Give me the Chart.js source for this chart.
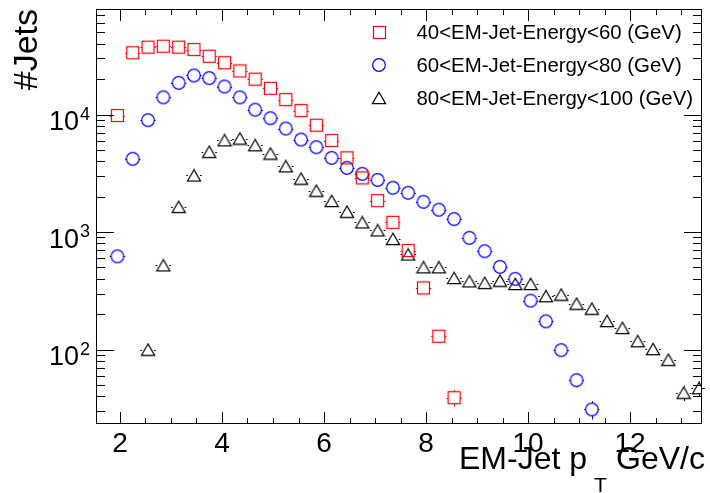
<!DOCTYPE html>
<html><head><meta charset="utf-8">
<script src="https://cdn.jsdelivr.net/npm/chart.js@4"></script>
<style>html,body{margin:0;padding:0;background:#fff}canvas{display:block}</style>
</head><body>
<canvas id="c" width="710" height="493"></canvas>
<script>
// ---- data ----
const binCenters = [1.95,2.25,2.55,2.85,3.15,3.45,3.75,4.05,4.35,4.65,4.95,5.25,5.55,5.85,6.15,6.45,6.75,7.05,7.35,7.65,7.95,8.25,8.55,8.85,9.15,9.45,9.75,10.05,10.35,10.65,10.95,11.25,11.55,11.85,12.15,12.45,12.75,13.05,13.35];
const seriesLabels = ['40<EM-Jet-Energy<60 (GeV)','60<EM-Jet-Energy<80 (GeV)','80<EM-Jet-Energy<100 (GeV)'];
const jets40to60 = [9800,33500,37400,38100,37400,35700,31300,27600,23500,20000,16700,13400,10800,8110,6010,4280,2890,1850,1210,697,335,130,39,null,null,null,null,null,null,null,null,null,null,null,null,null,null,null,null];
const jets60to80 = [622,4200,8950,14000,18600,21500,20400,17300,14000,11000,9300,7600,6120,5270,4280,3520,3130,2780,2380,2160,1810,1550,1290,893,687,506,400,261,174,99,55,31,null,null,null,null,null,null,null];
const jets80to100 = [null,null,100,521,1640,3030,4820,6040,6250,5480,4660,3630,2850,2250,1840,1490,1210,1035,875,645,502,502,407,381,370,386,362,362,285,294,246,223,175,153,118,101,82,43,47];
const xTickLabels = [2,4,6,8,10,12];
const yTickBase = '10';
const yTickExponents = [2,3,4];
const xTitleParts = ['EM-Jet p','T','GeV/c'];
const yTitle = '#Jets';
const binHalfWidth = 0.15;

const FONT = "'Liberation Sans', Arial, Helvetica, sans-serif";

function makeMarker(kind, color) {
  const c = document.createElement('canvas');
  if (kind === 'square') { c.width = 15; c.height = 15; }
  else if (kind === 'circle') { c.width = 16; c.height = 16; }
  else { c.width = 16; c.height = 14; }
  const g = c.getContext('2d');
  g.strokeStyle = color; g.lineWidth = 1.2;
  if (kind === 'square') { g.strokeRect(1.5, 1.5, 12, 12); }
  else if (kind === 'circle') { g.beginPath(); g.arc(8, 8, 6.3, 0, Math.PI * 2); g.stroke(); }
  else { g.beginPath(); g.moveTo(8, 1.2); g.lineTo(1.4, 12.6); g.lineTo(14.6, 12.6); g.closePath(); g.stroke(); }
  return c;
}

function toPoints(vals) {
  return binCenters.map((x, i) => ({x: x, y: vals[i]})).filter(p => p.y !== null);
}

const seriesDefs = [
  {vals: jets40to60, color: '#ff0000', kind: 'square'},
  {vals: jets60to80, color: '#0000ff', kind: 'circle'},
  {vals: jets80to100, color: '#000000', kind: 'triangle'}
];

const datasets = seriesDefs.map((s, i) => ({
  label: seriesLabels[i],
  data: toPoints(s.vals),
  pointStyle: makeMarker(s.kind, s.color),
  pointRadius: 7,
  borderColor: s.color,
  backgroundColor: s.color,
  showLine: false
}));

const near = (v, t) => Math.abs(v - t) < 1e-6;
const decadeOf = (v) => { const e = Math.round(Math.log10(v)); return near(v, Math.pow(10, e)) && yTickExponents.includes(e) ? e : null; };

const errorBars = {
  id: 'errorBars',
  beforeDatasetsDraw(chart) {
    const {ctx, scales: {x, y}} = chart;
    ctx.save();
    ctx.lineWidth = 1;
    chart.data.datasets.forEach((ds, di) => {
      const meta = chart.getDatasetMeta(di);
      ctx.strokeStyle = ds.borderColor;
      ctx.beginPath();
      meta.data.forEach((el, i) => {
        const p = ds.data[i];
        const px = el.x, py = el.y, gap = 6;
        const xl = x.getPixelForValue(p.x - binHalfWidth), xr = x.getPixelForValue(p.x + binHalfWidth);
        const yy = Math.round(py) + 0.5;
        if (px - gap > xl) { ctx.moveTo(xl, yy); ctx.lineTo(px - gap, yy); }
        if (xr > px + gap) { ctx.moveTo(px + gap, yy); ctx.lineTo(Math.min(xr, chart.chartArea.right), yy); }
        const e = Math.sqrt(p.y);
        const yt = y.getPixelForValue(p.y + e), yb = y.getPixelForValue(Math.max(p.y - e, 1e-3));
        const xx = Math.round(px) + 0.5;
        if (yt < py - gap) { ctx.moveTo(xx, yt); ctx.lineTo(xx, py - gap); }
        if (yb > py + gap) { ctx.moveTo(xx, py + gap); ctx.lineTo(xx, Math.min(yb, chart.chartArea.bottom)); }
      });
      ctx.stroke();
    });
    ctx.restore();
  }
};

const frameTicks = {
  id: 'frameTicks',
  afterDatasetsDraw(chart) {
    const {ctx, chartArea: a, scales: {x, y}} = chart;
    ctx.save();
    ctx.strokeStyle = '#000'; ctx.lineWidth = 1;
    ctx.beginPath();
    for (let v = Math.ceil(x.min * 2) / 2; v <= x.max + 1e-9; v += 0.5) {
      const px = Math.round(x.getPixelForValue(v)) + 0.5;
      const len = Math.abs(v / 2 - Math.round(v / 2)) < 1e-9 ? 12 : 6;
      ctx.moveTo(px, a.bottom); ctx.lineTo(px, a.bottom - len);
      ctx.moveTo(px, a.top); ctx.lineTo(px, a.top + len);
    }
    const e0 = Math.floor(Math.log10(y.min)), e1 = Math.ceil(Math.log10(y.max));
    for (let e = e0; e <= e1; e++) {
      for (let m = 1; m <= 9; m++) {
        const v = m * Math.pow(10, e);
        if (v < y.min || v > y.max) continue;
        const py = Math.round(y.getPixelForValue(v)) + 0.5;
        const len = m === 1 ? 18 : 9;
        ctx.moveTo(a.left, py); ctx.lineTo(a.left + len, py);
        ctx.moveTo(a.right, py); ctx.lineTo(a.right - len, py);
      }
    }
    ctx.stroke();
    ctx.strokeRect(a.left + 0.5, a.top + 0.5, a.right - a.left - 1, a.bottom - a.top - 1);
    ctx.restore();
  }
};

const legendAndTitle = {
  id: 'legendAndTitle',
  afterDraw(chart) {
    const {ctx, chartArea: a, scales: {y}} = chart;
    ctx.save();
    ctx.fillStyle = '#000';
    ctx.textAlign = 'left'; ctx.textBaseline = 'alphabetic';
    // exponents of the y tick labels (superscripts)
    ctx.font = '18px ' + FONT;
    y.ticks.forEach(t => {
      const e = decadeOf(t.value);
      if (e === null) return;
      ctx.fillText(String(e), a.left - 16, y.getPixelForValue(t.value) + 5);
    });
    // legend
    chart.data.datasets.forEach((ds, i) => {
      const cy = 32 + i * 33;
      const img = ds.pointStyle;
      ctx.drawImage(img, Math.round(379 - img.width / 2), Math.round(cy - img.height / 2));
      ctx.font = '20.4px ' + FONT;
      ctx.fillText(ds.label, 416.5, cy + 7);
    });
    // x axis title with subscript
    ctx.font = '32px ' + FONT;
    ctx.textAlign = 'right';
    ctx.fillText(xTitleParts[0], 587, 469);
    ctx.fillText(xTitleParts[2], 705, 469);
    ctx.font = '21px ' + FONT;
    ctx.textAlign = 'left';
    ctx.fillText(xTitleParts[1], 594, 492);
    ctx.restore();
  }
};

new Chart(document.getElementById('c'), {
  type: 'scatter',
  data: {datasets: datasets},
  plugins: [errorBars, frameTicks, legendAndTitle],
  options: {
    responsive: false,
    devicePixelRatio: 1,
    animation: false,
    layout: {padding: {top: 9, right: 3, left: 0, bottom: 0}},
    plugins: {legend: {display: false}, tooltip: {enabled: false}},
    scales: {
      x: {
        type: 'linear', min: 1.53, max: 13.41,
        grid: {display: false}, border: {display: false},
        ticks: {
          stepSize: 0.5, autoSkip: false, includeBounds: false, maxRotation: 0, minRotation: 0,
          color: '#000', font: {family: FONT, size: 28}, padding: -5,
          callback: (v) => { const t = xTickLabels.find(l => near(v, l)); return t !== undefined ? String(t) : ''; }
        },
        afterFit: (s) => { s.height = 69; s.paddingLeft = 0; s.paddingRight = 0; }
      },
      y: {
        type: 'logarithmic', min: 23.3, max: 79000,
        grid: {display: false}, border: {display: false},
        ticks: {
          autoSkip: false, color: '#000', font: {family: FONT, size: 27}, padding: 9, labelOffset: 8,
          callback: (v) => decadeOf(v) !== null ? yTickBase : ''
        },
        title: {display: true, text: yTitle, align: 'end', color: '#000', font: {family: FONT, size: 34}, padding: {top: 7, bottom: 0}},
        afterFit: (s) => { s.width = 96; s.paddingTop = 0; s.paddingBottom = 0; }
      }
    }
  }
});
</script>
</body></html>
